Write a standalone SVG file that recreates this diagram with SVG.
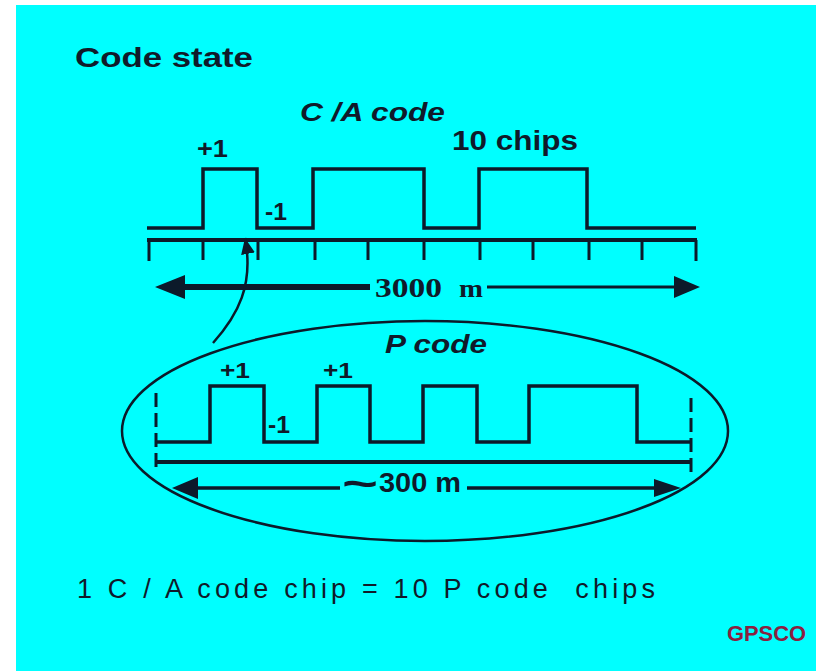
<svg xmlns="http://www.w3.org/2000/svg" width="816" height="671" viewBox="0 0 816 671">
<defs>
<style>
.ln{fill:none;stroke:#0c1a2a;stroke-linejoin:miter;stroke-linecap:butt}
.t{font-family:"Liberation Sans",Arial,sans-serif;fill:#101a2a}
.b{font-weight:bold}
.i{font-style:italic}
.sf{font-family:"Liberation Serif","Times New Roman",serif;fill:#101a2a;font-weight:bold}
.head{fill:#0c1a2a}
</style>
<marker id="ah" markerUnits="userSpaceOnUse" markerWidth="20" markerHeight="20" refX="16" refY="7" orient="auto">
<path d="M0,0 L16,7 L0,14 Z" class="head"/>
</marker>
</defs>
<rect x="0" y="0" width="816" height="671" fill="#ffffff"/>
<rect x="16" y="5" width="800" height="666" fill="#00ffff"/>

<text class="t b" x="75" y="67" font-size="28" textLength="178" lengthAdjust="spacingAndGlyphs">Code state</text>

<g id="ca-code">
<text class="t i b" x="300" y="121" font-size="26" textLength="145" lengthAdjust="spacingAndGlyphs">C /A code</text>
<text class="t b" x="452" y="150" font-size="27" textLength="126" lengthAdjust="spacingAndGlyphs">10 chips</text>
<text class="t b" x="197" y="157" font-size="24" textLength="31" lengthAdjust="spacingAndGlyphs">+1</text>
<text class="t b" x="265" y="220" font-size="23" textLength="22" lengthAdjust="spacingAndGlyphs">-1</text>
<path class="ln" stroke-width="3.5" d="M147,228 H203 V169 H257 V228 H313 V169 H424 V228 H479 V169 H587 V228 H696"/>
<path class="ln" stroke-width="4" d="M147,240 H697"/>
<path class="ln" stroke-width="3" d="M149,240 V261 M203,240 V260 M258,240 V260 M315,240 V260 M368,240 V260 M424,240 V260 M480,240 V260 M533,240 V260 M589,240 V260 M642,240 V260 M696,240 V261"/>
</g>

<g id="p-code">
<ellipse class="ln" stroke-width="2.5" cx="425" cy="431" rx="303" ry="110"/>
<text class="t i b" x="385" y="353" font-size="26" textLength="102" lengthAdjust="spacingAndGlyphs">P code</text>
<text class="t b" x="220" y="378" font-size="22" textLength="30" lengthAdjust="spacingAndGlyphs">+1</text>
<text class="t b" x="323" y="378" font-size="22" textLength="30" lengthAdjust="spacingAndGlyphs">+1</text>
<text class="t b" x="268" y="433" font-size="23" textLength="22" lengthAdjust="spacingAndGlyphs">-1</text>
<path class="ln" stroke-width="3.5" d="M157,442 H210 V386 H264 V442 H317 V386 H370 V442 H423 V386 H477 V442 H529 V386 H637 V442 H690"/>
<path class="ln" stroke-width="3" stroke-dasharray="14 6" d="M156,393 V471 M691,398 V474"/>
<path class="ln" stroke-width="4" d="M156,462 H691"/>
</g>

<g id="connectors">
<path class="ln" stroke-width="6" d="M180,287 H370"/>
<path class="ln" stroke-width="3" d="M487,287 H680"/>
<polygon class="head" points="155,287 185,275 185,299"/>
<polygon class="head" points="700,287 674,276 674,298"/>
<path class="ln" stroke-width="3.5" d="M192,488 H340"/>
<path class="ln" stroke-width="3.5" d="M467,488 H660"/>
<polygon class="head" points="172,488 198,477 198,499"/>
<polygon class="head" points="681,488 654,479 654,497"/>
<path class="ln" stroke-width="2.5" d="M213,343 C238,315 254,285 245,238" marker-end="url(#ah)"/>
</g>

<g id="labels">
<text class="sf" x="375" y="297" font-size="28" textLength="67" lengthAdjust="spacingAndGlyphs">3000</text>
<text class="sf" x="459" y="297" font-size="26" textLength="24" lengthAdjust="spacingAndGlyphs">m</text>
<text class="t b" x="342" y="497" font-size="40" textLength="36" lengthAdjust="spacingAndGlyphs">~</text>
<text class="t b" x="379" y="492" font-size="27" textLength="82" lengthAdjust="spacingAndGlyphs">300 m</text>
<text class="t" x="77" y="598" font-size="27" textLength="578" lengthAdjust="spacing" xml:space="preserve">1 C / A code chip = 10 P code  chips</text>
<text class="t b" x="727" y="641" font-size="22" textLength="79" lengthAdjust="spacingAndGlyphs" style="fill:#8a2040">GPSCO</text>
</g>
</svg>
